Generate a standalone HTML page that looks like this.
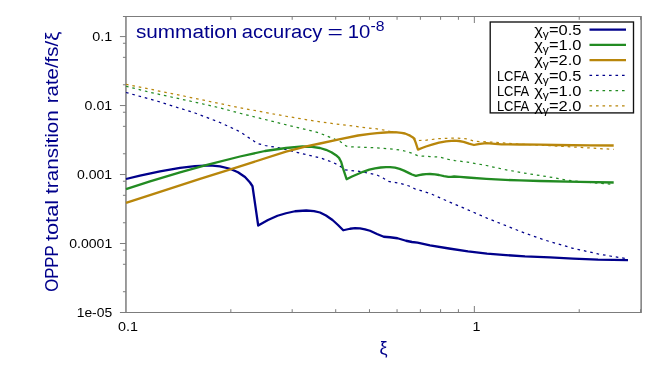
<!DOCTYPE html>
<html><head><meta charset="utf-8"><title>plot</title>
<style>
html,body{margin:0;padding:0;background:#fff;}
body{width:664px;height:369px;overflow:hidden;}
svg{display:block;will-change:transform;}
text{font-family:"Liberation Sans",sans-serif;}
.tk text{font-size:12.4px;fill:#000;}
.lg{font-size:14.3px;fill:#000;}
</style></head><body>
<svg width="664" height="369" viewBox="0 0 664 369">
<rect width="664" height="369" fill="#fff"/>
<g stroke="#7c7c7c" stroke-width="1" fill="none">
<line x1="119.95" y1="312.50" x2="125.95" y2="312.50"/>
<line x1="122.95" y1="291.73" x2="125.95" y2="291.73"/>
<line x1="122.95" y1="264.29" x2="125.95" y2="264.29"/>
<line x1="122.95" y1="250.20" x2="125.95" y2="250.20"/>
<line x1="119.95" y1="243.52" x2="125.95" y2="243.52"/>
<line x1="122.95" y1="222.75" x2="125.95" y2="222.75"/>
<line x1="122.95" y1="195.31" x2="125.95" y2="195.31"/>
<line x1="122.95" y1="181.22" x2="125.95" y2="181.22"/>
<line x1="119.95" y1="174.54" x2="125.95" y2="174.54"/>
<line x1="122.95" y1="153.77" x2="125.95" y2="153.77"/>
<line x1="122.95" y1="126.33" x2="125.95" y2="126.33"/>
<line x1="122.95" y1="112.24" x2="125.95" y2="112.24"/>
<line x1="119.95" y1="105.56" x2="125.95" y2="105.56"/>
<line x1="122.95" y1="84.79" x2="125.95" y2="84.79"/>
<line x1="122.95" y1="57.35" x2="125.95" y2="57.35"/>
<line x1="122.95" y1="43.26" x2="125.95" y2="43.26"/>
<line x1="119.95" y1="36.58" x2="125.95" y2="36.58"/>
<line x1="122.95" y1="16.50" x2="125.95" y2="16.50"/>
<line x1="230.83" y1="312.50" x2="230.83" y2="309.20"/>
<line x1="230.83" y1="16.50" x2="230.83" y2="19.80"/>
<line x1="292.18" y1="312.50" x2="292.18" y2="309.20"/>
<line x1="292.18" y1="16.50" x2="292.18" y2="19.80"/>
<line x1="335.71" y1="312.50" x2="335.71" y2="309.20"/>
<line x1="335.71" y1="16.50" x2="335.71" y2="19.80"/>
<line x1="369.47" y1="312.50" x2="369.47" y2="309.20"/>
<line x1="369.47" y1="16.50" x2="369.47" y2="19.80"/>
<line x1="397.06" y1="312.50" x2="397.06" y2="309.20"/>
<line x1="397.06" y1="16.50" x2="397.06" y2="19.80"/>
<line x1="420.38" y1="312.50" x2="420.38" y2="309.20"/>
<line x1="420.38" y1="16.50" x2="420.38" y2="19.80"/>
<line x1="440.59" y1="312.50" x2="440.59" y2="309.20"/>
<line x1="440.59" y1="16.50" x2="440.59" y2="19.80"/>
<line x1="458.41" y1="312.50" x2="458.41" y2="309.20"/>
<line x1="458.41" y1="16.50" x2="458.41" y2="19.80"/>
<line x1="474.35" y1="312.50" x2="474.35" y2="306.00"/>
<line x1="474.35" y1="16.50" x2="474.35" y2="23.00"/>
<line x1="579.23" y1="312.50" x2="579.23" y2="309.20"/>
<line x1="579.23" y1="16.50" x2="579.23" y2="19.80"/>
<line x1="640.58" y1="312.50" x2="640.58" y2="309.20"/>
<line x1="640.58" y1="16.50" x2="640.58" y2="19.80"/>
<line x1="125.35000000000001" y1="16.5" x2="641.75" y2="16.5"/>
<line x1="125.35000000000001" y1="312.5" x2="641.75" y2="312.5"/>
<line x1="125.95" y1="16.5" x2="125.95" y2="312.5" stroke-width="1.5"/>
<line x1="641.15" y1="16.5" x2="641.15" y2="312.5" stroke-width="1.5"/>
</g>
<g class="tk">
<text x="92.20" y="41.18" textLength="20.00" lengthAdjust="spacingAndGlyphs">0.1</text>
<text x="84.60" y="110.16" textLength="27.60" lengthAdjust="spacingAndGlyphs">0.01</text>
<text x="77.00" y="179.14" textLength="35.20" lengthAdjust="spacingAndGlyphs">0.001</text>
<text x="69.30" y="248.12" textLength="42.90" lengthAdjust="spacingAndGlyphs">0.0001</text>
<text x="76.70" y="317.10" textLength="35.50" lengthAdjust="spacingAndGlyphs">1e-05</text>
<text x="117.9" y="331.3" textLength="20" lengthAdjust="spacingAndGlyphs">0.1</text>
<text x="472.6" y="331.3" textLength="8" lengthAdjust="spacingAndGlyphs">1</text>
</g>
<g fill="none" stroke-linejoin="round" stroke-linecap="butt">
<path d="M126.00,84.25 L200.00,99.40 L240.00,107.80 L286.00,116.25 L320.00,121.90 L365.00,127.60 L377.00,128.90 L385.00,130.30 L392.00,131.80 L401.50,132.80 L408.00,134.60 L412.00,136.50 L414.80,138.40 L417.00,139.50 L419.50,140.50 L425.00,140.30 L432.00,139.50 L439.00,138.60 L454.00,138.00 L462.00,138.40 L467.40,139.00 L471.00,140.20 L474.00,141.20 L480.00,141.60 L486.40,141.80 L501.50,142.80 L520.00,144.20 L549.00,145.60 L573.00,147.00 L613.70,149.40" stroke="#b8860b" stroke-width="1.25" stroke-dasharray="2.6 3.9"/>
<path d="M126.00,86.25 L150.00,92.30 L200.00,103.30 L220.00,107.90 L240.00,113.25 L290.00,125.75 L315.00,131.70 L320.00,133.30 L335.00,139.20 L340.00,141.50 L346.50,146.20 L352.00,146.90 L358.00,147.10 L377.00,147.90 L395.80,149.40 L403.00,150.60 L409.00,152.20 L413.00,153.70 L417.60,155.60 L422.00,156.10 L430.00,156.60 L439.00,157.00 L444.00,158.20 L448.40,159.40 L455.00,160.60 L467.40,162.10 L486.40,165.50 L505.30,169.70 L524.30,173.10 L533.80,174.60 L549.00,176.90 L567.90,180.30 L577.40,181.30 L590.00,182.50 L613.70,184.50" stroke="#228b22" stroke-width="1.25" stroke-dasharray="2.6 3.9"/>
<path d="M126.00,92.50 L157.50,101.25 L195.00,113.00 L220.00,122.50 L240.00,131.75 L250.00,138.50 L257.50,143.50 L265.00,145.50 L277.50,147.50 L302.50,153.75 L320.00,157.80 L332.00,162.00 L339.00,165.40 L344.60,169.70 L350.00,170.50 L357.90,171.20 L365.00,172.50 L377.00,175.00 L383.00,178.00 L388.20,181.40 L395.80,182.60 L402.00,183.80 L409.00,186.00 L415.70,189.20 L420.00,190.30 L431.90,194.20 L449.00,201.80 L468.00,209.90 L487.00,218.10 L506.00,225.70 L525.00,233.20 L544.00,239.80 L550.00,241.60 L573.00,248.30 L598.00,253.90 L610.00,256.00 L628.00,258.90" stroke="#00008b" stroke-width="1.25" stroke-dasharray="2.6 3.9"/>
<path d="M126.00,179.00 L140.00,175.60 L160.00,171.30 L180.00,167.90 L195.00,166.10 L210.00,165.30 L220.00,166.30 L230.00,168.75 L238.00,172.30 L245.00,177.00 L250.00,182.50 L252.50,186.25 L258.20,225.50 L268.00,220.00 L277.50,215.75 L286.00,213.25 L295.00,211.25 L306.25,210.50 L314.00,211.20 L320.00,212.50 L326.00,215.50 L332.50,220.00 L338.00,225.00 L343.25,230.25 L350.00,228.75 L355.00,228.20 L360.00,228.40 L365.00,229.30 L370.00,230.75 L377.00,234.00 L383.75,236.75 L390.00,237.25 L397.50,238.25 L406.00,240.75 L412.00,242.00 L417.50,242.70 L430.00,245.30 L449.00,248.50 L468.00,251.30 L487.00,253.60 L506.00,255.10 L525.00,256.40 L550.00,257.40 L573.00,258.60 L598.00,259.60 L628.00,260.10" stroke="#00008b" stroke-width="2.3"/>
<path d="M126.00,189.10 L150.00,181.40 L180.00,172.30 L206.00,165.20 L240.00,156.50 L265.00,151.00 L286.00,148.00 L302.50,146.50 L312.00,146.80 L320.00,148.00 L326.00,149.80 L331.40,152.20 L336.00,155.20 L339.00,157.90 L341.20,162.00 L342.70,167.40 L346.60,179.20 L352.00,176.50 L357.90,174.00 L363.00,171.80 L369.30,169.70 L375.00,168.40 L380.70,167.50 L386.00,167.10 L390.10,167.10 L395.00,167.70 L399.60,168.90 L404.00,170.60 L409.10,173.10 L412.00,174.50 L415.90,175.90 L419.00,175.10 L422.40,174.50 L426.00,174.10 L430.00,174.00 L435.00,174.40 L439.00,175.00 L444.00,176.10 L448.40,176.90 L451.00,176.80 L454.10,176.50 L460.00,176.90 L467.40,177.50 L486.40,178.90 L505.30,179.90 L520.00,180.40 L540.00,181.00 L580.00,181.90 L613.70,182.50" stroke="#228b22" stroke-width="2.3"/>
<path d="M126.00,202.90 L160.00,191.90 L200.00,178.80 L240.00,166.40 L286.00,151.60 L306.25,146.30 L320.00,143.50 L339.00,139.30 L358.00,135.50 L370.00,133.90 L377.00,133.20 L385.00,132.50 L392.00,132.20 L397.00,132.30 L401.50,132.80 L405.00,133.50 L408.00,134.70 L410.50,135.90 L413.00,137.40 L414.50,139.50 L415.70,142.70 L418.00,149.60 L422.00,148.00 L426.00,146.50 L432.00,144.70 L439.00,142.60 L446.00,141.30 L454.10,140.60 L459.00,141.00 L463.60,141.80 L469.00,143.60 L474.00,145.00 L477.00,144.30 L480.00,143.80 L486.40,143.20 L495.00,143.80 L501.50,144.30 L520.00,144.50 L540.00,144.60 L555.50,145.00 L590.00,145.30 L613.70,145.50" stroke="#b8860b" stroke-width="2.3"/>
</g>
<g font-size="17.6" fill="#00008b">
<text x="135.9" y="37.8" textLength="101.5" lengthAdjust="spacingAndGlyphs">summation</text>
<text x="241.7" y="37.8" textLength="80.6" lengthAdjust="spacingAndGlyphs">accuracy</text>
<text x="327.6" y="37.8" textLength="15.4" lengthAdjust="spacingAndGlyphs">=</text>
<text x="347.7" y="37.8" textLength="22.6" lengthAdjust="spacingAndGlyphs">10</text>
</g>
<text x="370.5" y="31.4" font-size="14" fill="#00008b" textLength="14" lengthAdjust="spacingAndGlyphs">-8</text>
<g font-size="18" fill="#00008b">
<text transform="translate(57.7,291.7) rotate(-90)" textLength="46.3" lengthAdjust="spacingAndGlyphs">OPPP</text>
<text transform="translate(57.7,241.1) rotate(-90)" textLength="41.3" lengthAdjust="spacingAndGlyphs">total</text>
<text transform="translate(57.7,193.9) rotate(-90)" textLength="83.7" lengthAdjust="spacingAndGlyphs">transition</text>
<text transform="translate(57.7,103.2) rotate(-90)" textLength="71.5" lengthAdjust="spacingAndGlyphs">rate/fs/ξ</text>
</g>
<text x="383.5" y="354.3" font-size="18" fill="#00008b" text-anchor="middle">ξ</text>
<rect x="490.2" y="22.0" width="143.3" height="90.9" fill="none" stroke="#111" stroke-width="1.35"/>
<text class="lg" x="534.2" y="34.60" textLength="47.2" lengthAdjust="spacingAndGlyphs">χ<tspan dy="3.2" font-size="10.5">γ</tspan><tspan dy="-3.2">=0.5</tspan></text>
<line x1="589.5" y1="29.60" x2="626" y2="29.60" stroke="#00008b" stroke-width="2.3"/>
<text class="lg" x="534.2" y="49.90" textLength="47.2" lengthAdjust="spacingAndGlyphs">χ<tspan dy="3.2" font-size="10.5">γ</tspan><tspan dy="-3.2">=1.0</tspan></text>
<line x1="589.5" y1="44.85" x2="626" y2="44.85" stroke="#228b22" stroke-width="2.3"/>
<text class="lg" x="534.2" y="65.20" textLength="47.2" lengthAdjust="spacingAndGlyphs">χ<tspan dy="3.2" font-size="10.5">γ</tspan><tspan dy="-3.2">=2.0</tspan></text>
<line x1="589.5" y1="60.10" x2="626" y2="60.10" stroke="#b8860b" stroke-width="2.3"/>
<text class="lg" x="496.9" y="80.50" style="font-size:14px" textLength="32.3" lengthAdjust="spacingAndGlyphs">LCFA</text>
<text class="lg" x="534.2" y="80.50" textLength="47.2" lengthAdjust="spacingAndGlyphs">χ<tspan dy="3.2" font-size="10.5">γ</tspan><tspan dy="-3.2">=0.5</tspan></text>
<line x1="589.5" y1="75.35" x2="626" y2="75.35" stroke="#00008b" stroke-width="1.25" stroke-dasharray="2.6 3.9"/>
<text class="lg" x="496.9" y="95.80" style="font-size:14px" textLength="32.3" lengthAdjust="spacingAndGlyphs">LCFA</text>
<text class="lg" x="534.2" y="95.80" textLength="47.2" lengthAdjust="spacingAndGlyphs">χ<tspan dy="3.2" font-size="10.5">γ</tspan><tspan dy="-3.2">=1.0</tspan></text>
<line x1="589.5" y1="90.60" x2="626" y2="90.60" stroke="#228b22" stroke-width="1.25" stroke-dasharray="2.6 3.9"/>
<text class="lg" x="496.9" y="111.10" style="font-size:14px" textLength="32.3" lengthAdjust="spacingAndGlyphs">LCFA</text>
<text class="lg" x="534.2" y="111.10" textLength="47.2" lengthAdjust="spacingAndGlyphs">χ<tspan dy="3.2" font-size="10.5">γ</tspan><tspan dy="-3.2">=2.0</tspan></text>
<line x1="589.5" y1="105.85" x2="626" y2="105.85" stroke="#b8860b" stroke-width="1.25" stroke-dasharray="2.6 3.9"/>

</svg>
</body></html>
